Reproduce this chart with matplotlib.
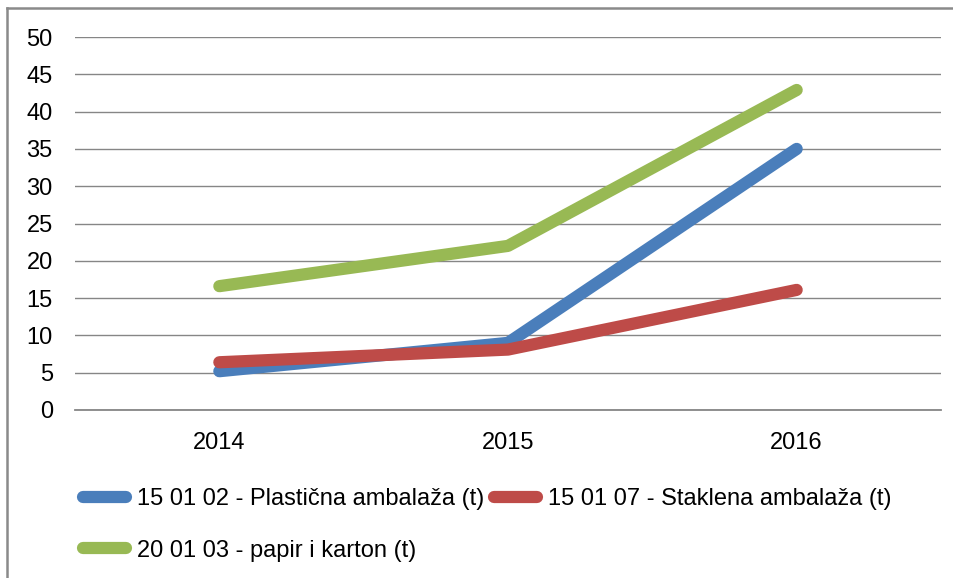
import matplotlib
matplotlib.use("Agg")
import matplotlib.pyplot as plt
from matplotlib.lines import Line2D
from matplotlib import font_manager

years = ["2014", "2015", "2016"]
plasticna = [5.2, 9.0, 35.0]
staklena = [6.4, 8.1, 16.1]
papir = [16.6, 22.0, 42.9]
labels = ["15 01 02 - Plastična ambalaža (t)",
          "15 01 07 - Staklena ambalaža (t)",
          "20 01 03 - papir i karton (t)"]
colors = ["#4A7EBB", "#BE4B48", "#98B954"]
yticks = [0, 5, 10, 15, 20, 25, 30, 35, 40, 45, 50]

names = {f.name for f in font_manager.fontManager.ttflist}
fam = "Liberation Sans Narrow" if "Liberation Sans Narrow" in names else "Liberation Sans"
plt.rcParams['font.family'] = [fam, 'DejaVu Sans']

W, H = 954, 578
fig = plt.figure(figsize=(W / 100, H / 100), dpi=100)
ax = fig.add_axes([75 / W, 1 - 410 / H, (941 - 75) / W, (410 - 37) / H])

x = list(range(len(years)))
handles = []
for vals, c, lab in zip([plasticna, staklena, papir], colors, labels):
    h, = ax.plot(x, vals, color=c, lw=8.8, solid_capstyle='round',
                 solid_joinstyle='round', label=lab, zorder=3)
    handles.append(h)

ax.set_xlim(-0.5, 2.5)
ax.set_ylim(0, 50)
ax.set_yticks(yticks)
ax.set_xticks(x)
ax.set_xticklabels(years)
ax.grid(axis='y', color='#868686', lw=1.0)
ax.set_axisbelow(True)
for s in ['top', 'right', 'left']:
    ax.spines[s].set_visible(False)
ax.spines['bottom'].set_color('#868686')
ax.spines['bottom'].set_linewidth(1.3)
ax.tick_params(axis='both', length=0, labelsize=17, colors='black')
ax.tick_params(axis='y', pad=16)
ax.tick_params(axis='x', pad=16)

leg = fig.legend([handles[0], handles[2], handles[1]],
                 [labels[0], labels[2], labels[1]],
                 ncol=2, loc='upper left', bbox_to_anchor=(83 / W, 1 - 488 / H),
                 frameon=False, fontsize=17, handlelength=1.8,
                 handletextpad=0.47, columnspacing=0.45, labelspacing=1.26,
                 borderaxespad=0, borderpad=0)
for l in leg.get_lines():
    l.set_linewidth(8.8)
    l.set_solid_capstyle('round')

fig.add_artist(Line2D([7 / W, 7 / W], [0, 1 - 8 / H], transform=fig.transFigure,
                      color='#8a8a8a', lw=1.8))
fig.add_artist(Line2D([7 / W, 1], [1 - 8 / H, 1 - 8 / H], transform=fig.transFigure,
                      color='#8a8a8a', lw=1.8))

fig.savefig("out.png", dpi=100)
